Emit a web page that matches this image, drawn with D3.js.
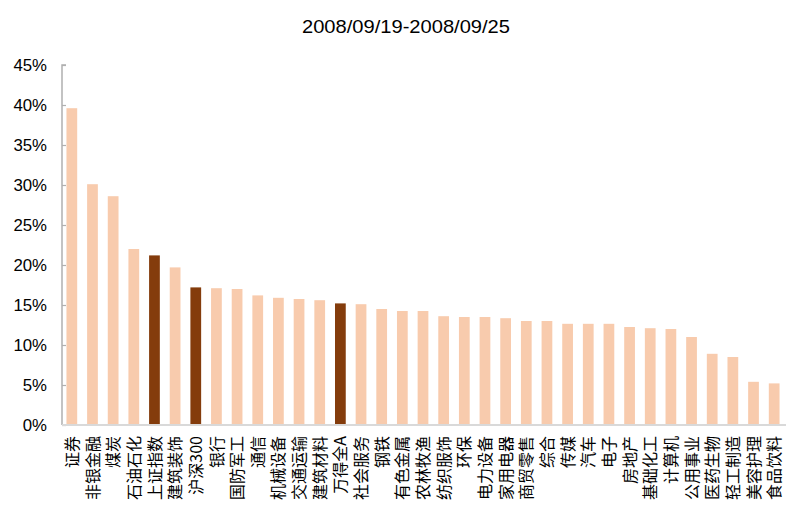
<!DOCTYPE html>
<html><head><meta charset="utf-8">
<script src="https://cdn.jsdelivr.net/npm/d3@7"></script>
<style>body{margin:0;background:#fff}svg{display:block}</style>
</head><body><svg id="c" width="808" height="515"></svg>
<script>
const title = "2008/09/19-2008/09/25";
const categories = ["证券","非银金融","煤炭","石油石化","上证指数","建筑装饰","沪深300","银行","国防军工","通信","机械设备","交通运输","建筑材料","万得全A","社会服务","钢铁","有色金属","农林牧渔","纺织服饰","环保","电力设备","家用电器","商贸零售","综合","传媒","汽车","电子","房地产","基础化工","计算机","公用事业","医药生物","轻工制造","美容护理","食品饮料"];
const values = [39.6,30.1,28.6,22.0,21.2,19.7,17.2,17.1,17.0,16.2,15.9,15.75,15.6,15.2,15.1,14.5,14.25,14.25,13.6,13.5,13.5,13.35,13.0,13.0,12.65,12.65,12.65,12.25,12.1,12.0,11.0,8.9,8.5,5.4,5.2];
const highlighted = ["上证指数","沪深300","万得全A"];
const yTicks = [0,5,10,15,20,25,30,35,40,45];

const svg = d3.select("#c");
const font = "'Liberation Sans', Arial, 'Noto Sans CJK SC', sans-serif";
const x = d3.scaleBand().domain(categories).range([61.5,784.5]).paddingInner(0.48).paddingOuter(0.24);
const y = d3.scaleLinear().domain([0,45]).range([425,65]);

// title
svg.append("text").attr("transform","translate(406,33) scale(1.15,1)")
  .attr("text-anchor","middle").attr("font-family",font).attr("font-size",17.5).attr("fill","#000").text(title);

// bars
svg.append("g").selectAll("rect").data(categories).join("rect")
  .attr("x",d=>x(d)).attr("width",x.bandwidth())
  .attr("y",(d,i)=>y(values[i])).attr("height",(d,i)=>y(0)-y(values[i]))
  .attr("fill",d=>highlighted.includes(d)?"#843C0C":"#F8CBAD");

// y axis
const ya = svg.append("g").attr("transform","translate(62,0)")
  .call(d3.axisRight(y).tickValues(yTicks).tickSize(4).tickFormat(""));
ya.select(".domain").attr("stroke","#B0B0B0").attr("stroke-width",1.5).attr("d","M4,65H0V425");
ya.selectAll(".tick line").attr("stroke","#B0B0B0").attr("stroke-width",1.2);
svg.append("g").selectAll("text").data(yTicks).join("text")
  .attr("transform",d=>`translate(47,${y(d)}) scale(1.05,1)`).attr("dy","0.36em")
  .attr("text-anchor","end").attr("font-family",font).attr("font-size",16).attr("fill","#000")
  .text(d=>d+"%");

// x axis line
svg.append("line").attr("x1",62).attr("x2",786).attr("y1",425).attr("y2",425)
  .attr("stroke","#D9D9D9").attr("stroke-width",2);

// x labels
svg.append("g").selectAll("text").data(categories).join("text")
  .attr("transform",d=>`translate(${x(d)+x.bandwidth()/2},436) rotate(-90)`)
  .attr("dy","0.38em").attr("text-anchor","end")
  .attr("font-family","'Noto Sans CJK SC', 'Liberation Sans', sans-serif").attr("font-size",16).attr("fill","#000")
  .text(d=>d);
</script></body></html>
